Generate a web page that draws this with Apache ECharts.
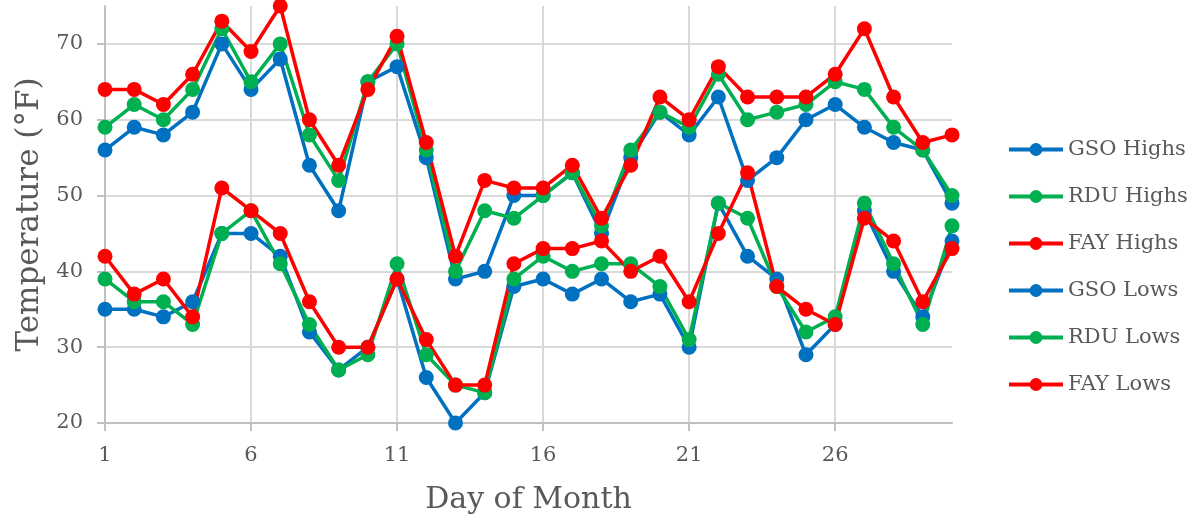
<!DOCTYPE html>
<html>
<head>
<meta charset="utf-8">
<script src="https://cdn.jsdelivr.net/npm/echarts@6/dist/echarts.min.js"></script>
<style>
  html, body { margin: 0; padding: 0; background: #fff; }
  #chart { width: 1196px; height: 526px; }
</style>
</head>
<body>
<div id="chart"></div>
<script>
  var days = [];
  for (var d = 1; d <= 30; d++) days.push(String(d));

  var yTicks = [20, 30, 40, 50, 60, 70];

  var gsoHighs = [56, 59, 58, 61, 70, 64, 68, 54, 48, 65, 67, 55, 39, 40, 50, 50, 53, 45, 55, 61, 58, 63, 52, 55, 60, 62, 59, 57, 56, 49];
  var rduHighs = [59, 62, 60, 64, 72, 65, 70, 58, 52, 65, 70, 56, 40, 48, 47, 50, 53, 46, 56, 61, 59, 66, 60, 61, 62, 65, 64, 59, 56, 50];
  var fayHighs = [64, 64, 62, 66, 73, 69, 75, 60, 54, 64, 71, 57, 42, 52, 51, 51, 54, 47, 54, 63, 60, 67, 63, 63, 63, 66, 72, 63, 57, 58];
  var gsoLows = [35, 35, 34, 36, 45, 45, 42, 32, 27, 30, 39, 26, 20, 24, 38, 39, 37, 39, 36, 37, 30, 49, 42, 39, 29, 33, 48, 40, 34, 44];
  var rduLows = [39, 36, 36, 33, 45, 48, 41, 33, 27, 29, 41, 29, 25, 24, 39, 42, 40, 41, 41, 38, 31, 49, 47, 38, 32, 34, 49, 41, 33, 46];
  var fayLows = [42, 37, 39, 34, 51, 48, 45, 36, 30, 30, 39, 31, 25, 25, 41, 43, 43, 44, 40, 42, 36, 45, 53, 38, 35, 33, 47, 44, 36, 43];

  var BLUE = '#0070C0', GREEN = '#00B050', RED = '#FF0000';
  var FONT = 'DejaVu Serif';
  var TXT = '#595959';

  function mk(name, data, color) {
    return {
      name: name,
      type: 'line',
      data: data,
      symbol: 'circle',
      symbolSize: 15,
      itemStyle: { color: color },
      lineStyle: { color: color, width: 3.5 },
      silent: true,
      animation: false
    };
  }

  var chart = echarts.init(document.getElementById('chart'));
  chart.setOption({
    backgroundColor: '#fff',
    animation: false,
    textStyle: { fontFamily: FONT },
    grid: { left: 105, right: 244, top: 6, bottom: 103, containLabel: false },
    legend: {
      orient: 'vertical',
      left: 1007,
      top: 139,
      padding: 0,
      itemWidth: 54,
      itemHeight: 16,
      itemGap: 26,
      lineStyle: { width: 4 },
      textStyle: { fontFamily: FONT, fontSize: 21, color: TXT },
      data: ['GSO Highs', 'RDU Highs', 'FAY Highs', 'GSO Lows', 'RDU Lows', 'FAY Lows']
    },
    xAxis: {
      type: 'category',
      data: days,
      boundaryGap: false,
      name: 'Day of Month',
      nameLocation: 'middle',
      nameGap: 62,
      nameTextStyle: { fontFamily: FONT, fontSize: 30, color: TXT },
      axisLine: { lineStyle: { color: '#bfbfbf', width: 2 } },
      axisTick: { show: true, interval: 4, length: 8, lineStyle: { color: '#bfbfbf', width: 2 } },
      axisLabel: { interval: 4, margin: 22, fontFamily: FONT, fontSize: 21, color: TXT },
      splitLine: { show: true, interval: 4, lineStyle: { color: '#d9d9d9', width: 2 } }
    },
    yAxis: {
      type: 'value',
      min: 20,
      max: 75,
      interval: 10,
      name: 'Temperature (°F)',
      nameLocation: 'middle',
      nameGap: 60,
      nameTextStyle: { fontFamily: FONT, fontSize: 31, color: TXT },
      axisLine: { show: true, lineStyle: { color: '#bfbfbf', width: 2 } },
      axisTick: { show: true, length: 8, customValues: yTicks, lineStyle: { color: '#bfbfbf', width: 2 } },
      axisLabel: { margin: 22, fontFamily: FONT, fontSize: 21, color: TXT, customValues: yTicks },
      splitLine: { show: true, lineStyle: { color: '#d9d9d9', width: 2 } }
    },
    series: [
      mk('GSO Highs', gsoHighs, BLUE),
      mk('RDU Highs', rduHighs, GREEN),
      mk('FAY Highs', fayHighs, RED),
      mk('GSO Lows', gsoLows, BLUE),
      mk('RDU Lows', rduLows, GREEN),
      mk('FAY Lows', fayLows, RED)
    ]
  });
</script>
</body>
</html>
